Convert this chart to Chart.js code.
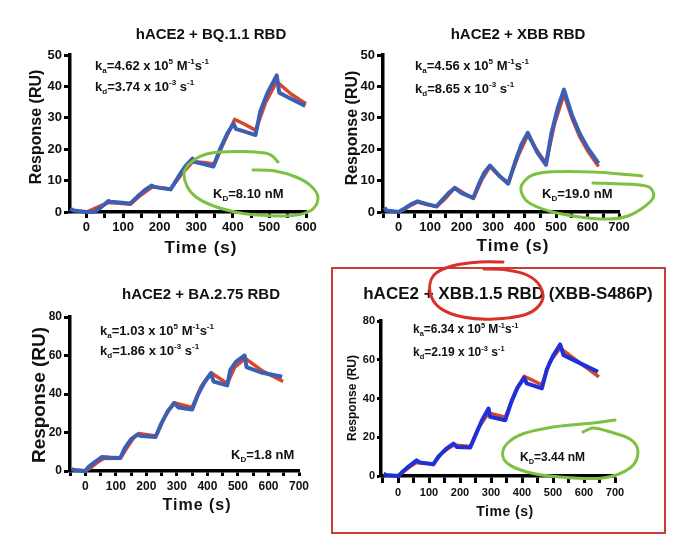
<!DOCTYPE html>
<html>
<head>
<meta charset="utf-8">
<script src="https://cdn.jsdelivr.net/npm/chart.js@4.4.1/dist/chart.umd.min.js"></script>
<style>
  body { margin: 0; background: #fff; }
  #page { position: relative; width: 680px; height: 550px; overflow: hidden; background: #fff;
          font-family: "Liberation Sans", Arial, Helvetica, sans-serif; color: #111; }
  canvas, .txt, svg, .frame { position: absolute; }
  .txt { font-weight: bold; white-space: nowrap; transform: translate(-50%, -50%); }
  .left { transform: translate(0, -50%); }
  .rot { transform: translate(-50%, -50%) rotate(-90deg); }
  .txt sub, .txt sup { font-size: 0.62em; line-height: 0; }
  .frame { left: 331px; top: 267px; width: 331px; height: 263px; border: 2px solid #cc3b35; }
  svg { left: 0; top: 0; pointer-events: none; }
</style>
</head>
<body>
<div id="page">
  <div class="frame"></div>

  <canvas id="c1" width="330" height="265" style="left:0px;top:0px"></canvas>
  <canvas id="c2" width="330" height="265" style="left:313px;top:0px"></canvas>
  <canvas id="c3" width="323" height="262" style="left:0px;top:262px"></canvas>
  <canvas id="c4" width="328" height="263" style="left:311px;top:266px"></canvas>

  <!-- titles -->
  <div class="txt" style="left:211px;top:33px;font-size:15px">hACE2 + BQ.1.1 RBD</div>
  <div class="txt" style="left:518px;top:33px;font-size:15px">hACE2 + XBB RBD</div>
  <div class="txt" style="left:201px;top:293px;font-size:15px">hACE2 + BA.2.75 RBD</div>
  <div class="txt" style="left:508px;top:294px;font-size:17px">hACE2 + XBB.1.5 RBD (XBB-S486P)</div>

  <!-- axis titles -->
  <div class="txt rot" style="left:36px;top:127px;font-size:16px">Response (RU)</div>
  <div class="txt" style="left:201px;top:248px;font-size:17px;letter-spacing:1px">Time (s)</div>
  <div class="txt rot" style="left:352px;top:128px;font-size:16px">Response (RU)</div>
  <div class="txt" style="left:513px;top:246px;font-size:17px;letter-spacing:1px">Time (s)</div>
  <div class="txt rot" style="left:39px;top:395px;font-size:19px">Response (RU)</div>
  <div class="txt" style="left:197px;top:505px;font-size:16px;letter-spacing:1px">Time (s)</div>
  <div class="txt rot" style="left:352px;top:398px;font-size:12px">Response (RU)</div>
  <div class="txt" style="left:505px;top:511px;font-size:14px;letter-spacing:0.5px">Time (s)</div>

  <!-- kinetic constants -->
  <div class="txt left" style="left:95px;top:65px;font-size:13px">k<sub>a</sub>=4.62 x 10<sup>5</sup> M<sup>-1</sup>s<sup>-1</sup></div>
  <div class="txt left" style="left:95px;top:86px;font-size:13px">k<sub>d</sub>=3.74 x 10<sup>-3</sup> s<sup>-1</sup></div>
  <div class="txt left" style="left:213px;top:193px;font-size:13px">K<sub>D</sub>=8.10 nM</div>

  <div class="txt left" style="left:415px;top:65px;font-size:13px">k<sub>a</sub>=4.56 x 10<sup>5</sup> M<sup>-1</sup>s<sup>-1</sup></div>
  <div class="txt left" style="left:415px;top:88px;font-size:13px">k<sub>d</sub>=8.65 x 10<sup>-3</sup> s<sup>-1</sup></div>
  <div class="txt left" style="left:542px;top:193px;font-size:13px">K<sub>D</sub>=19.0 nM</div>

  <div class="txt left" style="left:100px;top:330px;font-size:13px">k<sub>a</sub>=1.03 x 10<sup>5</sup> M<sup>-1</sup>s<sup>-1</sup></div>
  <div class="txt left" style="left:100px;top:350px;font-size:13px">k<sub>d</sub>=1.86 x 10<sup>-3</sup> s<sup>-1</sup></div>
  <div class="txt left" style="left:231px;top:454px;font-size:13px">K<sub>D</sub>=1.8 nM</div>

  <div class="txt left" style="left:413px;top:329px;font-size:12px">k<sub>a</sub>=6.34 x 10<sup>5</sup> M<sup>-1</sup>s<sup>-1</sup></div>
  <div class="txt left" style="left:413px;top:352px;font-size:12px">k<sub>d</sub>=2.19 x 10<sup>-3</sup> s<sup>-1</sup></div>
  <div class="txt left" style="left:520px;top:457px;font-size:12px">K<sub>D</sub>=3.44 nM</div>

  <svg id="ink" width="680" height="550"></svg>
</div>

<script>
// ---- data (time in s, response in RU) ----
// hACE2 + BQ.1.1 RBD
const bq11DataT = [-45, -35, 0, 20, 40, 60, 65, 90, 120, 140, 160, 178, 185, 205, 230, 250, 270, 290, 295, 320, 347, 365, 385, 402, 408, 435, 462, 475, 495, 520, 527, 560, 598];
const bq11DataY = [1, 0.5, 0, 0, 1.5, 3.5, 3.3, 3, 2.7, 5, 7, 8.4, 8, 7.6, 7.2, 11, 14.5, 17, 16, 15.3, 14.5, 20, 25, 28.2, 26.5, 25.5, 24.5, 32, 38, 43.5, 38, 36, 33.8];
const bq11FitT = [0, 20, 40, 60, 90, 120, 150, 180, 205, 230, 260, 290, 320, 350, 375, 405, 435, 462, 490, 520, 560, 600];
const bq11FitY = [0, 1, 2, 3, 2.8, 2.5, 5.5, 8, 7.7, 7.3, 12, 16, 15.8, 15.3, 22, 29.5, 27.8, 26, 35, 41.5, 37.5, 34.5];

// hACE2 + XBB RBD
const xbbDataT = [-45, -40, 0, 20, 40, 60, 90, 120, 140, 160, 178, 200, 237, 255, 272, 290, 320, 348, 370, 390, 410, 440, 468, 485, 505, 525, 550, 575, 600, 635];
const xbbDataY = [1.5, 0.5, 0, 1.2, 2.5, 3.4, 2.5, 1.8, 4, 6.2, 7.6, 6, 4.5, 9, 12.5, 14.8, 11.5, 9, 16, 21.5, 25.2, 19, 15, 25, 33, 39, 31, 25, 20.5, 15.5];
const xbbFitT = [0, 20, 40, 60, 90, 120, 150, 178, 210, 237, 265, 290, 320, 348, 380, 410, 440, 468, 495, 525, 550, 575, 600, 635];
const xbbFitY = [0, 1, 2.2, 3.2, 2.4, 1.7, 4.5, 7.8, 5.8, 4.3, 10.5, 14.5, 11.5, 9.3, 18, 24.5, 19.5, 15.5, 28, 37.5, 30, 24, 19.5, 14.5];

// hACE2 + BA.2.75 RBD
const ba275DataT = [-45, -35, 0, 10, 30, 55, 80, 115, 130, 150, 170, 185, 230, 250, 270, 292, 305, 350, 370, 390, 412, 420, 465, 475, 495, 522, 528, 580, 645];
const ba275DataY = [1, 0.5, 0, 2, 4.5, 7.3, 7, 6.8, 12, 16.5, 18.8, 18.2, 17.7, 25, 31, 35.3, 33, 31.9, 40, 46, 50.8, 46.5, 44.5, 52.5, 57, 60, 54, 51, 49];
const ba275FitT = [0, 20, 40, 60, 115, 140, 160, 175, 232, 260, 290, 350, 380, 412, 465, 490, 524, 580, 648];
const ba275FitY = [0, 2, 4.5, 6.5, 6.6, 13, 17.5, 19.5, 18.2, 28, 35.5, 33, 44, 51, 45.5, 54, 58.5, 52, 46.5];

// hACE2 + XBB.1.5 RBD (XBB-S486P)
const xbb15DataT = [-47, -38, 0, 10, 35, 60, 70, 114, 130, 155, 179, 190, 233, 250, 270, 292, 297, 346, 365, 385, 407, 415, 464, 480, 500, 523, 534, 590, 645];
const xbb15DataY = [1.2, 0.5, 0, 1.5, 5, 8.1, 7, 6, 10, 14, 16.7, 15, 14.7, 21, 28.5, 34.8, 30.5, 28.8, 38, 45.5, 50.7, 47.8, 45.2, 55, 62, 67.9, 62.4, 58, 53.8];
const xbb15FitT = [0, 20, 40, 60, 114, 140, 160, 180, 233, 260, 292, 346, 380, 407, 464, 490, 523, 590, 648];
const xbb15FitY = [0, 2.5, 5, 7, 6.3, 11.5, 14, 16, 15.2, 25, 32.5, 30.3, 44, 51.5, 47, 59, 66, 58, 51.2];

const FONT = '"Liberation Sans", Arial, Helvetica, sans-serif';
const RED = '#d9462c';

function pts(t, y) {
    return t.map((v, i) => ({ x: v, y: y[i] }));
}

function makePanel(id, o) {
    const axisFont = { family: FONT, size: o.tick, weight: 'bold' };
    return new Chart(document.getElementById(id), {
        type: 'line',
        data: {
            datasets: [
                { label: 'Data', data: pts(o.dataT, o.dataY), borderColor: o.blue, borderWidth: o.lw,
                  pointRadius: 0, tension: 0, clip: false, borderJoinStyle: 'round' },
                { label: 'Fit', data: pts(o.fitT, o.fitY), borderColor: RED, borderWidth: o.lw - 0.5,
                  pointRadius: 0, tension: 0, clip: false, borderJoinStyle: 'round' }
            ]
        },
        options: {
            responsive: false,
            animation: false,
            devicePixelRatio: 1,
            layout: { padding: { left: o.padLeft, top: 55, right: 24, bottom: 5 } },
            plugins: { legend: { display: false }, tooltip: { enabled: false } },
            scales: {
                x: {
                    type: 'linear', min: o.xMin, max: o.xMax,
                    afterFit: s => { s.height = 48; },
                    ticks: { stepSize: 50, includeBounds: false, autoSkip: false, maxRotation: 0, padding: o.xPad,
                             color: '#111', font: axisFont,
                             callback: v => (Math.round(v) % 100 === 0 ? String(Math.round(v)) : '') },
                    grid: { drawOnChartArea: false, tickLength: o.xtl, tickWidth: 3, tickColor: '#000' },
                    border: { width: 3.5, color: '#000' }
                },
                y: {
                    min: 0, max: o.yMax,
                    afterFit: s => { s.width = 60; },
                    ticks: { stepSize: o.yStep, padding: 2, color: '#111', font: axisFont },
                    grid: { drawOnChartArea: false, tickLength: o.ytl, tickWidth: 3, tickColor: '#000' },
                    border: { width: 3.5, color: '#000' }
                }
            }
        }
    });
}

makePanel('c1', { dataT: bq11DataT, dataY: bq11DataY, fitT: bq11FitT, fitY: bq11FitY,
                  xMin: -45, xMax: 600, yMax: 50, yStep: 10, tick: 13, xtl: 6, ytl: 6, xPad: 2,
                  lw: 4, blue: '#3c5fb4', padLeft: 10 });
makePanel('c2', { dataT: xbbDataT, dataY: xbbDataY, fitT: xbbFitT, fitY: xbbFitY,
                  xMin: -50, xMax: 700, yMax: 50, yStep: 10, tick: 13, xtl: 6, ytl: 6, xPad: 2,
                  lw: 4, blue: '#3c5fb4', padLeft: 10 });
makePanel('c3', { dataT: ba275DataT, dataY: ba275DataY, fitT: ba275FitT, fitY: ba275FitY,
                  xMin: -50, xMax: 700, yMax: 80, yStep: 20, tick: 12, xtl: 5, ytl: 6, xPad: 3,
                  lw: 4, blue: '#3c5fb4', padLeft: 10 });
makePanel('c4', { dataT: xbb15DataT, dataY: xbb15DataY, fitT: xbb15FitT, fitY: xbb15FitY,
                  xMin: -55, xMax: 700, yMax: 80, yStep: 20, tick: 11, xtl: 7, ytl: 4, xPad: 3,
                  lw: 4, blue: '#1e30dc', padLeft: 10 });

// ---- hand-drawn marker strokes over the figure ----
function smoothPath(p) {
    let d = 'M' + p[0][0] + ',' + p[0][1];
    for (let i = 0; i < p.length - 1; i++) {
        const p0 = p[i - 1] || p[i], p1 = p[i], p2 = p[i + 1], p3 = p[i + 2] || p2;
        const c1 = [p1[0] + (p2[0] - p0[0]) / 6, p1[1] + (p2[1] - p0[1]) / 6];
        const c2 = [p2[0] - (p3[0] - p1[0]) / 6, p2[1] - (p3[1] - p1[1]) / 6];
        d += ' C' + c1.join(',') + ' ' + c2.join(',') + ' ' + p2.join(',');
    }
    return d;
}
const strokes = [
    { c: '#7dc143', p: [[278,162],[265,153],[220,152],[197,158],[184,174],[196,197],[235,212],[285,216],[310,211],[318,198],[311,186],[296,177],[275,171],[253,170]] },
    { c: '#7dc143', p: [[642,176],[593,172],[540,173],[523,183],[522,194],[531,204],[557,213],[600,219],[628,216],[651,201],[652,190],[640,185],[593,183]] },
    { c: '#7dc143', p: [[615,420],[593,423],[553,427],[520,435],[504,448],[506,462],[527,472],[560,477],[603,478],[630,468],[638,452],[630,439],[607,431],[593,428],[583,432]] },
    { c: '#d8312a', p: [[503,262],[480,262],[452,266],[434,275],[430,292],[440,308],[463,317],[494,319],[527,314],[542,301],[540,286],[527,275],[507,270],[484,269]] }
];
const ink = document.getElementById('ink');
strokes.forEach(s => {
    const el = document.createElementNS('http://www.w3.org/2000/svg', 'path');
    el.setAttribute('d', smoothPath(s.p));
    el.setAttribute('fill', 'none');
    el.setAttribute('stroke', s.c);
    el.setAttribute('stroke-width', '3');
    el.setAttribute('stroke-linecap', 'round');
    ink.appendChild(el);
});
</script>
</body>
</html>
